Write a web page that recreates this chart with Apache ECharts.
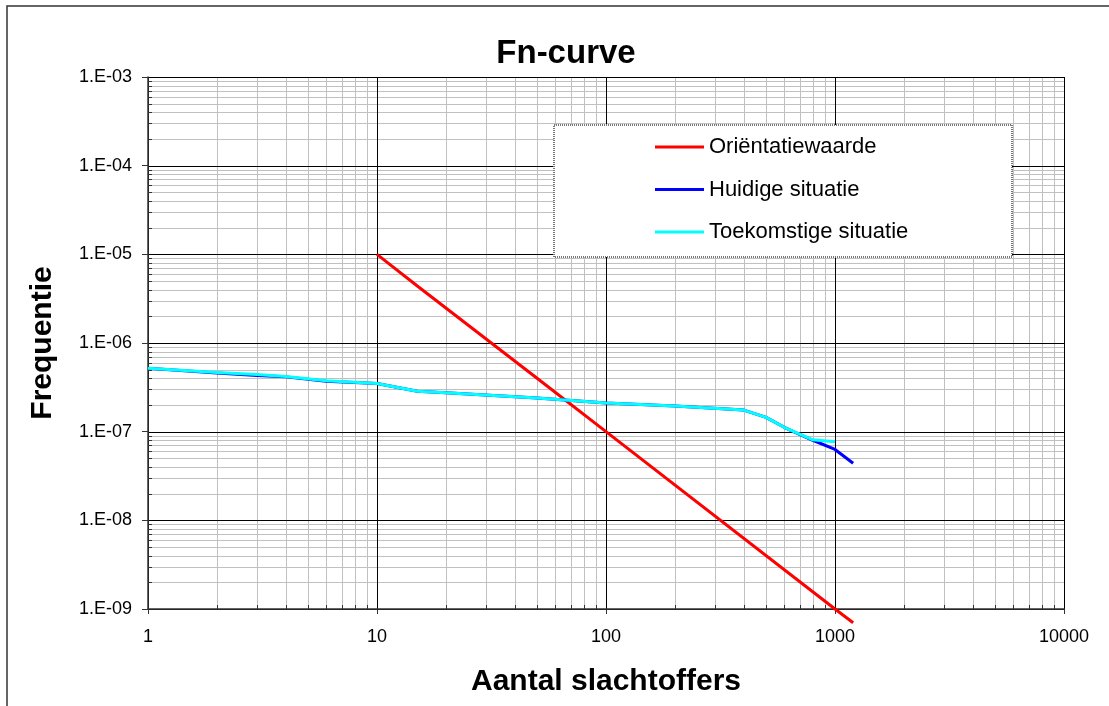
<!DOCTYPE html>
<html>
<head>
<meta charset="utf-8">
<script src="https://cdn.jsdelivr.net/npm/echarts@6/dist/echarts.min.js"></script>
<style>
html,body{margin:0;padding:0;background:#fff;}
#chart{width:1109px;height:706px;}
</style>
</head>
<body>
<div id="chart"></div>
<script>
// ---- data ----
const seriesNames = ['Oriëntatiewaarde', 'Huidige situatie', 'Toekomstige situatie'];
const orientatieN = [10, 15, 50, 100, 1000, 1200];
const orientatieF = [1e-5, 4.4e-6, 4e-7, 1e-7, 1e-9, 7e-10];
const huidigeN = [1, 2, 3, 4, 6, 10, 15, 20, 50, 100, 200, 400, 500, 600, 800, 1000, 1200];
const huidigeF = [5.2e-7, 4.6e-7, 4.3e-7, 4.15e-7, 3.7e-7, 3.5e-7, 2.85e-7, 2.75e-7, 2.4e-7, 2.1e-7, 1.95e-7, 1.75e-7, 1.45e-7, 1.12e-7, 8.0e-8, 6.3e-8, 4.4e-8];
const toekomstN = [1, 2, 3, 4, 6, 10, 15, 20, 50, 100, 200, 400, 500, 600, 800, 1000];
const toekomstF = [5.2e-7, 4.65e-7, 4.4e-7, 4.2e-7, 3.75e-7, 3.5e-7, 2.85e-7, 2.75e-7, 2.4e-7, 2.1e-7, 1.95e-7, 1.75e-7, 1.45e-7, 1.12e-7, 8.1e-8, 7.7e-8];
// axis ticks
const xMajorTicks = [1, 10, 100, 1000, 10000];
const xMinorTicks = [2,3,4,5,6,7,8,9, 20,30,40,50,60,70,80,90, 200,300,400,500,600,700,800,900, 2000,3000,4000,5000,6000,7000,8000,9000];
const yMajorTicks = [1e-9, 1e-8, 1e-7, 1e-6, 1e-5, 1e-4, 1e-3];
const yMinorTicks = [
  2e-9,3e-9,4e-9,5e-9,6e-9,7e-9,8e-9,9e-9,
  2e-8,3e-8,4e-8,5e-8,6e-8,7e-8,8e-8,9e-8,
  2e-7,3e-7,4e-7,5e-7,6e-7,7e-7,8e-7,9e-7,
  2e-6,3e-6,4e-6,5e-6,6e-6,7e-6,8e-6,9e-6,
  2e-5,3e-5,4e-5,5e-5,6e-5,7e-5,8e-5,9e-5,
  2e-4,3e-4,4e-4,5e-4,6e-4,7e-4,8e-4,9e-4
];

const FONT = '"Liberation Sans", Arial, Helvetica, sans-serif';
const pairs = (xs, ys) => xs.map((x, i) => [x, ys[i]]);

// grid-line items: [x, y, kind] kind: 0 x-minor, 1 y-minor, 2 x-major, 3 y-major
const gridItems = []
  .concat(xMinorTicks.map(v => [v, 1e-6, 0]))
  .concat(yMinorTicks.map(v => [1, v, 1]))
  .concat(xMajorTicks.map(v => [v, 1e-6, 2]))
  .concat(yMajorTicks.map(v => [1, v, 3]));

const chart = echarts.init(document.getElementById('chart'), null, {renderer: 'canvas'});

const option = {
  backgroundColor: '#fff',
  animation: false,
  title: {
    text: 'Fn-curve',
    left: 561, top: 32, textAlign: 'center',
    textStyle: {fontFamily: FONT, fontSize: 33, fontWeight: 'bold', color: '#000'}
  },
  graphic: [
    {type: 'rect', z: 100, shape: {x: 7, y: 6, width: 1200, height: 800},
     style: {fill: 'none', stroke: '#333', lineWidth: 1.5}},
    {type: 'rect', z: 3, shape: {x: 554, y: 125, width: 458, height: 132},
     style: {fill: '#fff', stroke: '#777', lineWidth: 2, lineDash: [1, 1]}}
  ],
  legend: {
    data: seriesNames,
    orient: 'vertical',
    left: 655, top: 136,
    z: 10,
    icon: 'rect',
    itemWidth: 49, itemHeight: 3, itemGap: 20.5,
    padding: 0,
    textStyle: {fontFamily: FONT, fontSize: 22, color: '#000', lineHeight: 22}
  },
  grid: {left: 148, top: 77, width: 916, height: 532, containLabel: false},
  xAxis: {
    type: 'log', logBase: 10, min: 1, max: 10000, splitNumber: 4, z: 3,
    name: 'Aantal slachtoffers', nameLocation: 'middle', nameGap: 58,
    nameTextStyle: {fontFamily: FONT, fontSize: 30, fontWeight: 'bold', color: '#000'},
    axisLine: {show: true, lineStyle: {color: '#333', width: 1.5}},
    axisTick: {show: true, length: 5, lineStyle: {color: '#333'}},
    axisLabel: {margin: 19, fontFamily: FONT, fontSize: 18, color: '#000',
      formatter: v => String(Math.round(v))},
    splitLine: {show: false},
    minorTick: {show: false}
  },
  yAxis: {
    type: 'log', logBase: 10, min: 1e-9, max: 1e-3, splitNumber: 6, z: 3,
    name: 'Frequentie', nameLocation: 'middle', nameGap: 90, nameRotate: 90,
    nameTextStyle: {fontFamily: FONT, fontSize: 30, fontWeight: 'bold', color: '#000'},
    axisLine: {show: true, lineStyle: {color: '#333', width: 1.5}},
    axisTick: {show: true, length: 6, lineStyle: {color: '#333'}},
    axisLabel: {margin: 16, fontFamily: FONT, fontSize: 18, color: '#000',
      formatter: v => {
        const e = Math.round(Math.log10(v));
        return '1.E' + (e < 0 ? '-' : '+') + String(Math.abs(e)).padStart(2, '0');
      }},
    splitLine: {show: false},
    minorTick: {show: false}
  },
  series: [
    {
      type: 'custom', name: '__grid', silent: true, z: 1,
      coordinateSystem: 'cartesian2d',
      encode: {x: 0, y: 1},
      data: gridItems,
      renderItem: function (params, api) {
        const kind = api.value(2);
        const cs = params.coordSys;
        const p = api.coord([api.value(0), api.value(1)]);
        const major = kind >= 2;
        const color = major ? '#000' : '#c0c0c0';
        if (kind === 0 || kind === 2) {
          const x = Math.round(p[0]) + 0.5;
          const children = [{type: 'line', z2: major ? 2 : 0,
            shape: {x1: x, y1: cs.y, x2: x, y2: cs.y + cs.height},
            style: {stroke: color, lineWidth: 1}}];
          if (!major) children.push({type: 'line', z2: 3,
            shape: {x1: x, y1: cs.y + cs.height, x2: x, y2: cs.y + cs.height - 4},
            style: {stroke: '#333', lineWidth: 1}});
          return {type: 'group', children: children};
        } else {
          const y = Math.round(p[1]) + 0.5;
          const children = [{type: 'line', z2: major ? 2 : 0,
            shape: {x1: cs.x, y1: y, x2: cs.x + cs.width, y2: y},
            style: {stroke: color, lineWidth: 1}}];
          if (!major) children.push({type: 'line', z2: 3,
            shape: {x1: cs.x, y1: y, x2: cs.x + 4, y2: y},
            style: {stroke: '#333', lineWidth: 1}});
          return {type: 'group', children: children};
        }
      }
    },
    {
      name: seriesNames[0], type: 'line', data: pairs(orientatieN, orientatieF),
      symbol: 'none', clip: false, z: 5,
      lineStyle: {color: '#ff0000', width: 3}, itemStyle: {color: '#ff0000'}
    },
    {
      name: seriesNames[1], type: 'line', data: pairs(huidigeN, huidigeF),
      symbol: 'none', z: 5,
      lineStyle: {color: '#0000ff', width: 3}, itemStyle: {color: '#0000ff'}
    },
    {
      name: seriesNames[2], type: 'line', data: pairs(toekomstN, toekomstF),
      symbol: 'none', z: 6,
      lineStyle: {color: '#00ffff', width: 3}, itemStyle: {color: '#00ffff'}
    }
  ]
};
chart.setOption(option);
</script>
</body>
</html>
